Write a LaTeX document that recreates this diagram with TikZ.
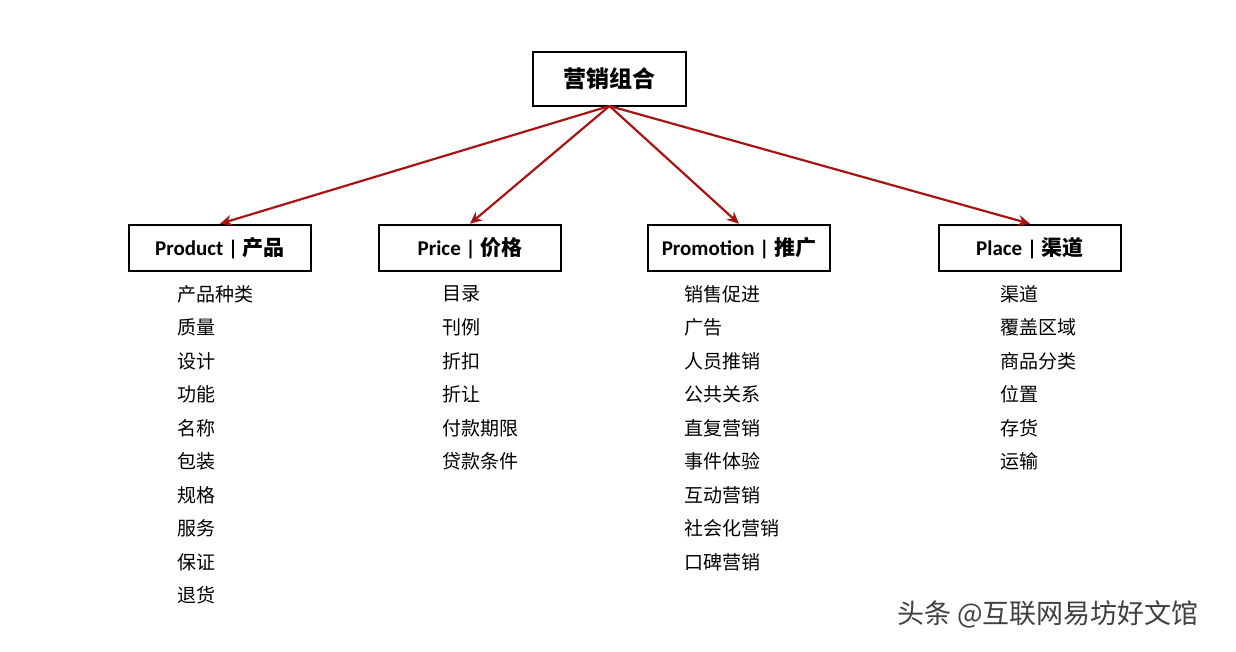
\documentclass[tikz,border=0pt]{standalone}
\usepackage{fontspec}
\setmainfont{Carlito}
\newfontfamily\cjk{Noto Sans CJK SC}
\usetikzlibrary{arrows.meta}
\definecolor{linkred}{HTML}{A81414}
\tikzset{
  topbox/.style={draw, line width=2.5pt, minimum width=153pt, minimum height=54pt, font=\fontsize{23}{26}\selectfont\cjk\bfseries},
  catbox/.style={draw, line width=2.5pt, minimum width=182pt, minimum height=46pt, font=\fontsize{21}{24}\selectfont\bfseries},
  link/.style={draw=linkred, line width=2.2pt, -{Stealth[length=12pt,width=11pt]}},
  item/.style={anchor=west, inner sep=0pt, font=\fontsize{19}{21}\selectfont\cjk}
}
\begin{document}
\begin{tikzpicture}[x=1pt,y=-1pt]
  \useasboundingbox (0,0) rectangle (1236,651);
  %% Root and categories
  \node[topbox] (root) at (609.5,79) {营销组合};
  \node[catbox] (product) at (220,248) {Product | {\cjk 产品}};
  \node[catbox] (price) at (470,248) {Price | {\cjk 价格}};
  \node[catbox] (promo) at (739,248) {Promotion | {\cjk 推广}};
  \node[catbox] (place) at (1030,248) {Place | {\cjk 渠道}};
  %% Links
  \coordinate (hub) at (609.5,106);
  \foreach \c in {product,price,promo,place}
    \draw[link] (hub) -- (\c.north);
  %% Lists
  \foreach \t [count=\i] in {产品种类,质量,设计,功能,名称,包装,规格,服务,保证,退货}
    \node[item] (productitem\i) at (177,294+33.5*\i-33.5) {\t};
  \foreach \t [count=\i] in {目录,刊例,折扣,折让,付款期限,贷款条件}
    \node[item] (priceitem\i) at (442,294+33.5*\i-33.5) {\t};
  \foreach \t [count=\i] in {销售促进,广告,人员推销,公共关系,直复营销,事件体验,互动营销,社会化营销,口碑营销}
    \node[item] (promoitem\i) at (684,294+33.5*\i-33.5) {\t};
  \foreach \t [count=\i] in {渠道,覆盖区域,商品分类,位置,存货,运输}
    \node[item] (placeitem\i) at (1000,294+33.5*\i-33.5) {\t};
  %% Watermark
  \node[anchor=west, inner sep=0pt, text=black!75, font=\fontsize{27}{29}\selectfont\cjk] (mark) at (897,614) {头条 @互联网易坊好文馆};
\end{tikzpicture}
\end{document}
